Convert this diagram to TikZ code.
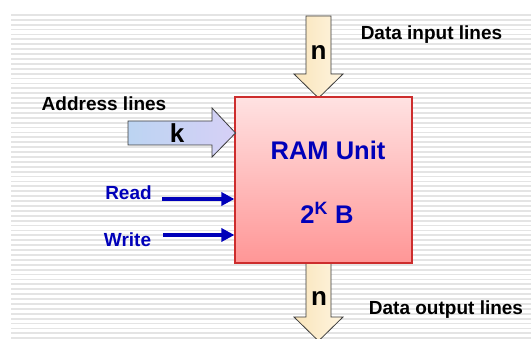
\documentclass[tikz,border=0pt]{standalone}
\usepackage{fontspec}
\setmainfont{Liberation Sans}
\usetikzlibrary{arrows.meta}

\definecolor{stripegray}{RGB}{228,228,228}
\definecolor{ramtop}{RGB}{255,226,226}
\definecolor{rambottom}{RGB}{255,150,150}
\definecolor{ramedge}{RGB}{205,45,45}
\definecolor{labelblue}{RGB}{0,0,185}
\definecolor{creamL}{RGB}{249,228,186}
\definecolor{creamR}{RGB}{255,245,224}
\definecolor{addrL}{RGB}{188,212,242}
\definecolor{addrR}{RGB}{214,208,246}
\definecolor{outline}{RGB}{60,60,60}

\tikzset{
  stripe/.style={fill=stripegray},
  ramblock/.style={draw=ramedge, line width=1.2pt, top color=ramtop, bottom color=rambottom,
    minimum width=177pt, minimum height=166pt, inner sep=0pt},
  datablock/.style={draw=outline, line width=0.8pt, left color=creamL, right color=creamR, line join=miter},
  addrblock/.style={draw=outline, line width=0.8pt, left color=addrL, right color=addrR, line join=miter},
  caption/.style={font=\bfseries\fontsize{19}{21}\selectfont, text=black, inner sep=0pt},
  ctrllabel/.style={font=\bfseries\fontsize{19}{21}\selectfont, text=labelblue, inner sep=0pt},
  ramtext/.style={font=\bfseries\fontsize{25.5}{28}\selectfont, text=labelblue, inner sep=0pt},
  buslabel/.style={font=\bfseries\fontsize{26}{28}\selectfont, text=black, inner sep=0pt},
  ctrlarrow/.style={draw=labelblue, line width=3.5pt, -{Triangle[length=13pt,width=13pt]}}
}

\begin{document}
\begin{tikzpicture}[x=1pt,y=-1pt]
\useasboundingbox (0,0) rectangle (531,339);
\fill[white] (0,0) rectangle (531,339);

% striped backdrop
\foreach \i in {0,...,66}
  \fill[stripe] (11,{14+\i*4.9}) rectangle (531,{15.8+\i*4.9});

% data input bus (drawn before the unit so the tip meets its top edge)
\draw[datablock] (306,16) -- (331,16) -- (331,74) -- (343,74) -- (318.5,98)
  -- (294,74) -- (306,74) -- cycle;
\node[buslabel] (nin) at (318.5,53) {n};

% data output bus
\draw[datablock] (306,263) -- (331,263) -- (331,317) -- (343,317) -- (318.5,341)
  -- (294,317) -- (306,317) -- cycle;
\node[buslabel] (nout) at (319,298) {n};

% the memory unit
\node[ramblock] (ram) at (323.5,180) {};
\node[ramtext] (title) at (328,150) {RAM Unit};
\node[ramtext] (size) at (327,213) {2\textsuperscript{K} B};

% address bus
\draw[addrblock] (128,121) -- (212,121) -- (212,108) -- (235.5,133) -- (212,157)
  -- (212,145) -- (128,145) -- cycle;
\node[buslabel] (kbits) at (177,133) {k};

% captions
\node[caption] (din) at (431.5,35) {Data input lines};
\node[caption] (addr) at (104,104) {Address lines};
\node[caption] (dout) at (446,310) {Data output lines};

% control signals
\node[ctrllabel] (read) at (128.5,193) {Read};
\node[ctrllabel] (write) at (127.5,240) {Write};
\coordinate (readsrc) at (162,199);
\coordinate (writesrc) at (163,235);
\draw[ctrlarrow] (readsrc) -- (ram.west |- readsrc);
\draw[ctrlarrow] (writesrc) -- (ram.west |- writesrc);
\end{tikzpicture}
\end{document}
